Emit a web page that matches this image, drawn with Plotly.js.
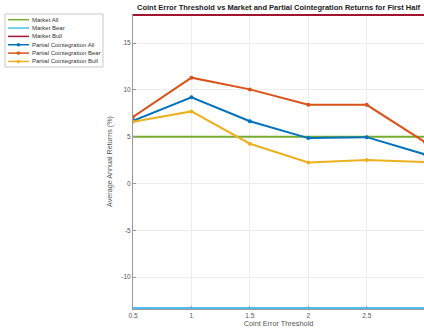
<!DOCTYPE html>
<html>
<head>
<meta charset="utf-8">
<script src="https://cdn.plot.ly/plotly-3.0.1.min.js"></script>
<style>html,body{margin:0;padding:0;background:#fff}#chart{width:424px;height:331px}</style>
</head>
<body>
<div id="chart"></div>
<script>
const thresholds = [0.5, 1, 1.5, 2, 2.5, 3];
const marketAll = [5, 5, 5, 5, 5, 5];
const marketBear = [-13.3, -13.3, -13.3, -13.3, -13.3, -13.3];
const marketBull = [18, 18, 18, 18, 18, 18];
const partialAll = [6.7, 9.2, 6.65, 4.85, 4.95, 3.1];
const partialBear = [7.1, 11.3, 10.05, 8.4, 8.4, 4.4];
const partialBull = [6.6, 7.7, 4.25, 2.25, 2.5, 2.3];
const xTicks = [0.5, 1, 1.5, 2, 2.5, 3];
const yTicks = [-10, -5, 0, 5, 10, 15];
const seriesNames = ['Market All', 'Market Bear', 'Market Bull',
  'Partial Cointegration All', 'Partial Cointegration Bear', 'Partial Cointegration Bull'];
const seriesColors = ['#77AC30', '#4DBEEE', '#A2142F', '#0072BD', '#D95319', '#EDB120'];
const seriesMarkers = [false, false, false, true, true, true];
const seriesValues = [marketAll, marketBear, marketBull, partialAll, partialBear, partialBull];

const data = seriesNames.map((name, i) => ({
  x: thresholds, y: seriesValues[i], name: name, type: 'scatter',
  mode: seriesMarkers[i] ? 'lines+markers' : 'lines',
  line: {color: seriesColors[i], width: 2},
  marker: {color: seriesColors[i], size: 4},
  showlegend: false
}));

// Plot area in pixels: x 133..424, y 14..309
const L = 133, R = 424, T = 14, B = 309;
const px = X => (X - L) / (R - L);
const py = Y => (B - Y) / (B - T);

const shapes = [{
  type: 'rect', xref: 'paper', yref: 'paper',
  x0: px(5), x1: px(103), y0: py(14), y1: py(67),
  line: {color: '#c8c8c8', width: 1}, fillcolor: '#fff', layer: 'above'
}];
const annotations = [];
seriesNames.forEach((name, i) => {
  const Y = 19.7 + i * 8.35;
  shapes.push({
    type: 'line', xref: 'paper', yref: 'paper',
    x0: px(8), x1: px(29), y0: py(Y), y1: py(Y),
    line: {color: seriesColors[i], width: 1.5}, layer: 'above'
  });
  if (seriesMarkers[i]) {
    shapes.push({
      type: 'circle', xref: 'paper', yref: 'paper',
      x0: px(17), x1: px(20), y0: py(Y - 1.5), y1: py(Y + 1.5),
      line: {color: seriesColors[i], width: 0.5}, fillcolor: seriesColors[i], layer: 'above'
    });
  }
  annotations.push({
    xref: 'paper', yref: 'paper', x: px(30.5), y: py(Y),
    xanchor: 'left', yanchor: 'middle', showarrow: false, text: name,
    font: {family: 'Liberation Sans, Arial', size: 6, color: '#333'}
  });
});

const axisCommon = {
  showline: true, linecolor: '#999', linewidth: 1,
  showgrid: true, gridcolor: '#ededed', gridwidth: 1,
  ticks: 'inside', ticklen: 3, tickcolor: '#999',
  tickfont: {family: 'Liberation Sans, Arial', size: 6.5, color: '#555'},
  zeroline: false, mirror: false
};

const layout = {
  width: 424, height: 331,
  margin: {l: L, r: 0, t: T, b: 331 - B},
  paper_bgcolor: '#fff', plot_bgcolor: '#fff',
  title: {
    text: '<b>Coint Error Threshold vs Market and Partial Cointegration Returns for First Half</b>',
    font: {family: 'Liberation Sans, Arial', size: 7.5, color: '#222'},
    x: 137/424, xanchor: 'left', xref: 'container', y: 1 - 7/331, yanchor: 'middle', yref: 'container'
  },
  xaxis: Object.assign({}, axisCommon, {
    range: [0.5, 2.99], tickvals: xTicks, ticktext: xTicks.map(String),
    title: {text: 'Coint Error Threshold', font: {family: 'Liberation Sans, Arial', size: 7.3, color: '#555'}, standoff: 2}
  }),
  yaxis: Object.assign({}, axisCommon, {
    range: [-13.4, 18.1], tickvals: yTicks, ticktext: yTicks.map(String),
    title: {text: 'Average Annual Returns (%)', font: {family: 'Liberation Sans, Arial', size: 7.2, color: '#555'}, standoff: 7}
  }),
  showlegend: false,
  shapes: shapes,
  annotations: annotations
};

Plotly.newPlot('chart', data, layout, {displayModeBar: false, staticPlot: true});
</script>
</body>
</html>
